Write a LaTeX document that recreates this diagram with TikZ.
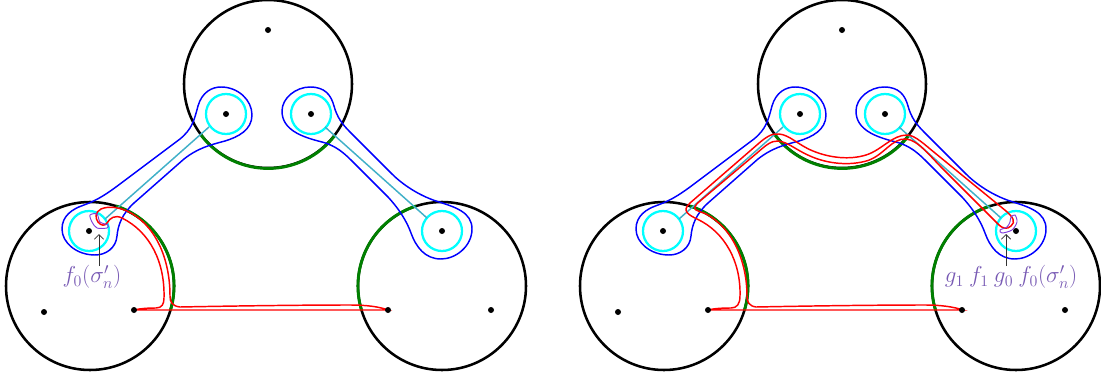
\documentclass[tikz,border=0pt]{standalone}
\usepackage{amsmath, amssymb}
\usetikzlibrary{arrows.meta}
\definecolor{ArcGreen}{RGB}{0, 128, 0}
\definecolor{RingCyan}{RGB}{0, 255, 255}
\definecolor{CurveTeal}{RGB}{64, 176, 200}
\definecolor{LoopBlue}{RGB}{0, 0, 255}
\definecolor{LoopRed}{RGB}{255, 0, 0}
\definecolor{SigmaViolet}{RGB}{128, 60, 220}
\definecolor{LabelPurple}{RGB}{120, 90, 180}
\tikzset{
  disc/.style={line width=1.9pt, black},
  arcgreen/.style={line width=2.2pt, ArcGreen},
  ringcyan/.style={line width=1.7pt, RingCyan},
  strandteal/.style={line width=1.1pt, CurveTeal},
  loopblue/.style={line width=1.1pt, LoopBlue},
  loopred/.style={line width=1.1pt, LoopRed},
  loopviolet/.style={line width=0.7pt, SigmaViolet},
  puncture/.style={fill=black, inner sep=0pt, minimum size=4.5pt, circle},
  pointer/.style={-{Straight Barb[length=3.5pt,width=7pt]}, line width=0.6pt, black!80},
  curvelabel/.style={LabelPurple, font=\fontsize{16.5}{20}\selectfont}
}
\begin{document}
\begin{tikzpicture}[x=0.75pt, y=-0.75pt]
  \useasboundingbox (0,0) rectangle (1101,372);

  \foreach \dx in {0, 574} {
    \begin{scope}[shift={(\dx,0)}]
      % Discs
      \draw[disc] (268,84) circle (84);
      \draw[disc] (90,286) circle (84);
      \draw[disc] (442,286) circle (84);

      % Green arcs
      \draw[arcgreen] (201,135) arc[start angle=143, end angle=37, radius=84];
      \draw[arcgreen] (116,206) arc[start angle=-72, end angle=17, radius=84];
      \draw[arcgreen] (416,206) arc[start angle=252, end angle=163, radius=84];

      % Cyan rings
      \draw[ringcyan] (226,114) circle (20);
      \draw[ringcyan] (311,114) circle (20);
      \draw[ringcyan] (89,231) circle (20);
      \draw[ringcyan] (442,231) circle (20);

      % Strands between rings
      \draw[strandteal] (209,127) -- (105,219);
      \draw[strandteal] (325,127) -- (427,218);

      % Blue loops
      \draw[loopblue] (180,139) .. controls (192,129) and (194,121) .. (198,106)
        .. controls (202,92) and (212,87) .. (221,87)
        .. controls (238,87) and (252,100) .. (252,115)
        .. controls (252,130) and (238,137) .. (225,141)
        .. controls (210,145) and (198,148) .. (184,159)
        -- (134,203)
        .. controls (122,214) and (118,225) .. (117,236)
        .. controls (116,248) and (106,255) .. (95,255)
        .. controls (77,255) and (62,243) .. (62,229)
        .. controls (62,216) and (72,209) .. (84,205)
        .. controls (98,200) and (108,193) .. (120,184)
        -- cycle;
      \draw[loopblue] (350,132) -- (392,174)
        .. controls (402,184) and (418,195) .. (436,201)
        .. controls (455,207) and (472,212) .. (472,229)
        .. controls (472,246) and (456,259) .. (441,259)
        .. controls (425,259) and (416,247) .. (411,233)
        .. controls (407,222) and (400,210) .. (388,197)
        -- (354,163)
        .. controls (345,154) and (337,146) .. (322,142)
        .. controls (302,137) and (282,130) .. (282,111)
        .. controls (282,98) and (296,87) .. (310,87)
        .. controls (325,87) and (331,95) .. (334,106)
        .. controls (337,117) and (342,124) .. (350,132)
        -- cycle;
    \end{scope}
  }

  % Red curve, first picture
  \draw[loopred] (134,310) .. controls (140,308.5) and (148,308) .. (156,308)
    .. controls (162,308) and (164,304) .. (164,298)
    .. controls (165,262) and (150,232) .. (122,218)
    .. controls (115,214.5) and (110,218) .. (107,223)
    .. controls (105,226) and (101,226) .. (98,222)
    .. controls (95,218) and (95,212) .. (101,209)
    .. controls (108,206) and (118,207) .. (127,211)
    .. controls (155,224) and (170,258) .. (170,296)
    .. controls (170,302) and (172,306) .. (180,307)
    .. controls (230,306) and (300,305) .. (350,305)
    .. controls (368,305) and (380,307) .. (388,310)
    -- cycle;

  % Red curve, second picture
  \draw[loopred] (708,310) .. controls (714,308.5) and (722,308) .. (731,308)
    .. controls (737,308) and (740,304) .. (740,296)
    .. controls (741,262) and (725,232) .. (697,219)
    .. controls (689,215) and (681,211) .. (690,203)
    -- (758,144)
    .. controls (766,137) and (772,133) .. (779,134)
    .. controls (790,135) and (798,145) .. (813,151)
    .. controls (830,158) and (850,160) .. (866,155)
    .. controls (882,150) and (892,135) .. (907,135)
    .. controls (915,135) and (925,145) .. (935,153)
    -- (1006,211)
    .. controls (1013,217) and (1016,222) .. (1011,226)
    .. controls (1007,230) and (1002,228) .. (999,225)
    -- (942,168)
    .. controls (930,156) and (918,140) .. (906,139)
    .. controls (892,138) and (884,155) .. (868,160.5)
    .. controls (850,166) and (828,164) .. (810,156)
    .. controls (796,150) and (788,142) .. (778,141)
    .. controls (771,140.5) and (765,146) .. (757,153)
    -- (700,201)
    .. controls (696,204) and (693,208) .. (696,210)
    .. controls (699,212) and (702,212) .. (706,214)
    .. controls (733,228) and (747,262) .. (747,296)
    .. controls (747,302) and (749,306) .. (756,307)
    .. controls (805,306) and (875,305) .. (925,305)
    .. controls (942,305) and (954,307) .. (963,310)
    -- cycle;

  % Small curve and pointer, first picture
  \draw[loopviolet] plot[smooth cycle, tension=0.5] coordinates {
    (90,215) (97,214) (100,222) (108,225) (107,228) (97,228) (92,222)};
  \draw[pointer] (99,266) -- (99,234);
  \node[curvelabel] (labelf) at (92,277) {$f_0(\sigma'_n)$};

  % Small curve and pointer, second picture
  \draw[loopviolet] plot[smooth cycle, tension=0.5] coordinates {
    (1015,215) (1017,222) (1012,230) (1002,233) (1000,230) (1007,227) (1010,222) (1011,217)};
  \draw[pointer] (1006,266) -- (1006,234);
  \node[curvelabel] (labelg) at (1011,277) {$g_1\: f_1\: g_0\: f_0(\sigma'_n)$};

  % Punctures
  \foreach \dx/\tag in {0/a, 574/b} {
    \foreach \x/\y/\name in {268/30/t, 226/114/u, 311/114/v, 89/231/l, 44/312/m, 134/310/n, 442/231/r, 388/310/s, 491/310/w} {
      \node[puncture] (\tag\name) at ({\x+\dx},\y) {};
    }
  }
\end{tikzpicture}
\end{document}
